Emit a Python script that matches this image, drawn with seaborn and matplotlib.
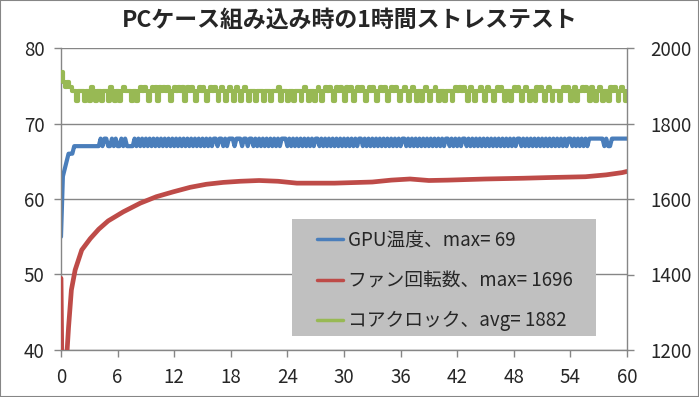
import matplotlib
matplotlib.use("Agg")
import matplotlib.pyplot as plt
import numpy as np
import seaborn as sns
from matplotlib.lines import Line2D
from matplotlib.patches import Rectangle

TITLE = "PCケース組み込み時の1時間ストレステスト"
LABELS = ["GPU温度、max= 69", "ファン回転数、max= 1696", "コアクロック、avg= 1882"]
X_TICKS = [0, 6, 12, 18, 24, 30, 36, 42, 48, 54, 60]
LEFT_TICKS = [40, 50, 60, 70, 80]
RIGHT_TICKS = [1200, 1400, 1600, 1800, 2000]

# logged every 0.2 min; first value then one digit per sample (temp - 60)
gpu_temp_first = [55]
gpu_temp_steps = (
    "3456667777" "7777777777" "8788778787" "7878777787" "8787878787"
    "8787878787" "8787878787" "8787878787" "8878878788" "8788878878"
    "8787878787" "8787878887" "8787878787" "8787887878" "7878787878"
    "7878787887" "8787878787" "8787878787" "8878787878" "7878787878"
    "7878878787" "8788787878" "7878787878" "7878787878" "7887878787"
    "8787878787" "8787878788" "7878787878" "8888888787" "7888888888"
)

# core clock, same sampling; digit -> clock step
clock_first = [1936]
clock_steps = (
    "4343322022" "2022032022" "0222032022" "0232220220" "2323202323"
    "0323232023" "2323023232" "0232320232" "3202320232" "0232023202"
    "2202220222" "0222302220" "2202220232" "0220232023" "2320232320"
    "3232023232" "0232320232" "3202323202" "2320232022" "0232022320"
    "2202220232" "3232023202" "2320232202" "3232022023" "2320232022"
    "0323202320" "2220232320" "2302232320" "3202320220" "3232023202"
)
CLOCK_LEVELS = {"0": 1860, "2": 1885, "3": 1898, "4": 1911}

fan_minutes = [0, 0.1, 0.5, 0.65, 0.8, 1.1, 1.5, 2.2, 3.1, 4, 5, 6.6, 8.4, 10.1,
               11.9, 13.7, 15.4, 17.2, 19, 21, 23, 25, 29, 33, 35, 37, 39, 41,
               45, 49, 52, 55.6, 57.8, 59.5, 60]
fan_rpm = [1390, 1150, 1150, 1200, 1260, 1359, 1412, 1465, 1495, 1520, 1542, 1566,
           1589, 1606, 1619, 1631, 1639, 1644, 1647, 1649, 1647, 1642, 1642, 1645,
           1650, 1653, 1649, 1650, 1653, 1655, 1657, 1659, 1664, 1670, 1673]

gpu_temp = gpu_temp_first + [60 + int(c) for c in gpu_temp_steps]
clock = clock_first + [CLOCK_LEVELS[c] for c in clock_steps]
minutes = np.round(np.arange(len(gpu_temp)) * 0.2, 1)

BLUE = "#4A7EBB"
RED = "#BE4B48"
GREEN = "#98B954"
GRAY = "#868686"

sns.set_style("white")
plt.rcParams["font.family"] = ["Noto Sans CJK JP", "DejaVu Sans"]
plt.rcParams["path.simplify"] = False

fig = plt.figure(figsize=(6.99, 3.97), dpi=100)
ax = fig.add_axes([61 / 699, 1 - 350 / 397, 566 / 699, 302 / 397])
ax2 = ax.twinx()

sns.lineplot(x=minutes, y=gpu_temp, ax=ax, color=BLUE, lw=3.0,
             estimator=None, legend=False)
sns.lineplot(x=fan_minutes, y=fan_rpm, ax=ax2, color=RED, lw=3.4,
             estimator=None, legend=False)
sns.lineplot(x=minutes, y=clock, ax=ax2, color=GREEN, lw=3.0,
             drawstyle="steps-post", estimator=None, legend=False)

ax.set_xlim(0, 60)
ax.set_ylim(40, 80)
ax2.set_ylim(1200, 2000)
ax.set_xticks(X_TICKS)
ax.set_yticks(LEFT_TICKS)
ax2.set_yticks(RIGHT_TICKS)
ax.set(xlabel=None, ylabel=None)
ax2.set(xlabel=None, ylabel=None)

ax.yaxis.grid(True, color=GRAY, lw=1)
ax.set_axisbelow(True)
for s in ["top", "right"]:
    ax.spines[s].set_visible(False)
for s in ["top", "left", "bottom"]:
    ax2.spines[s].set_visible(False)
for sp in [ax.spines["left"], ax.spines["bottom"], ax2.spines["right"]]:
    sp.set_color(GRAY)
    sp.set_linewidth(1)
ax.tick_params(axis="both", direction="out", length=5, width=1, color=GRAY,
               labelsize=13.5, pad=7, left=True, bottom=True)
ax2.tick_params(axis="y", direction="out", length=5, width=1, color=GRAY,
                labelsize=13.5, pad=12, right=True)

# legend box
ax2.add_patch(Rectangle((292 / 699, 1 - 336 / 397), 304 / 699, 117 / 397,
                        transform=fig.transFigure, facecolor="#C0C0C0",
                        edgecolor="none", zorder=4, clip_on=False))
handles = [Line2D([], [], color=c, lw=2.5) for c in [BLUE, RED, GREEN]]
leg = ax2.legend(handles, LABELS, loc="upper left",
                 bbox_to_anchor=(317 / 699, 1 - 230 / 397),
                 bbox_transform=fig.transFigure, frameon=False, fontsize=13.5,
                 handlelength=1.4, handletextpad=0.25, labelspacing=1.02,
                 borderpad=0, borderaxespad=0)
leg.set_zorder(5)

fig.text(0.5, 1 - 20 / 397, TITLE, ha="center", va="center",
         fontsize=16.5, fontweight="bold")
fig.add_artist(Rectangle((0, 0), 1, 1, transform=fig.transFigure, fill=False,
                         edgecolor=GRAY, lw=1.5))

fig.savefig("out.png", dpi=100)
